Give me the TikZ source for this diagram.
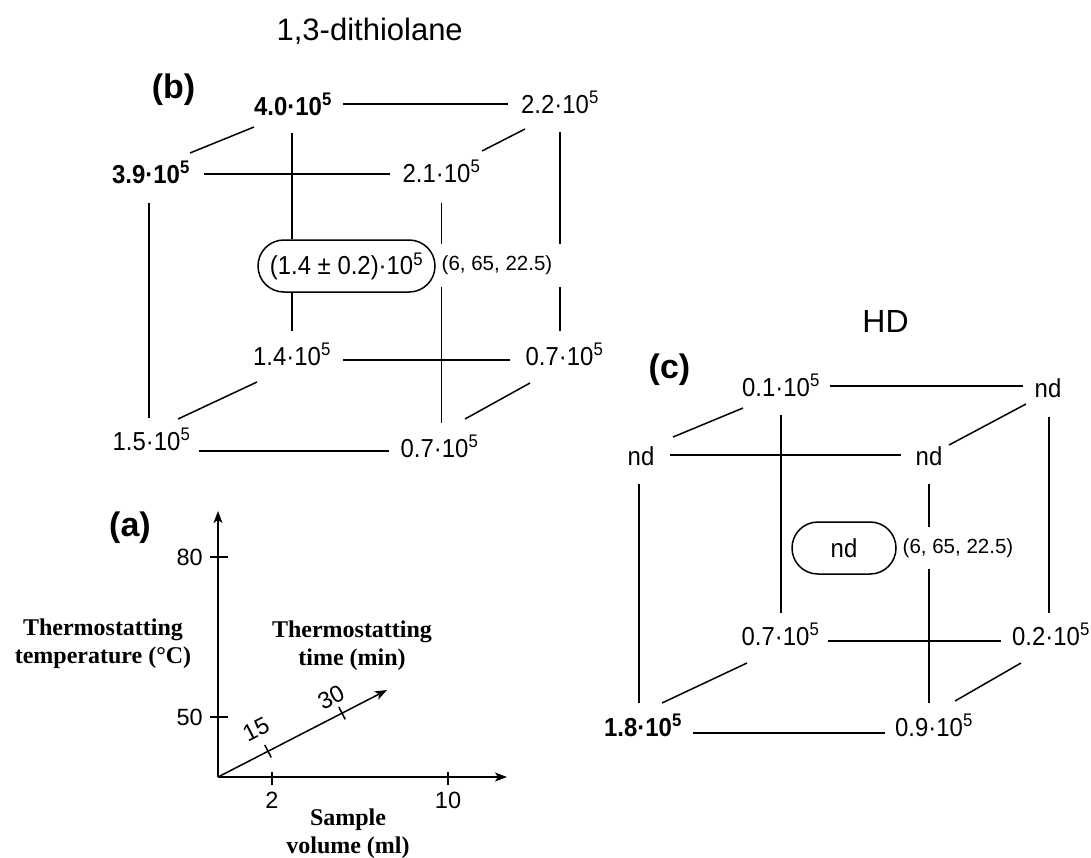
\documentclass[tikz,border=0pt]{standalone}
\usepackage{fontspec}
\setmainfont{Liberation Sans}
\newfontfamily\tnrfam{Liberation Serif}
\newfontfamily\numfam{Liberation Sans}[FakeStretch=0.92]
\usetikzlibrary{arrows.meta,calc}
\newcommand\tenpow[2]{#1·10\textsuperscript{#2}}
\tikzset{
  lab/.style={font=\numfam\fontsize{26}{30}\selectfont, inner sep=0pt, anchor=base},
  blab/.style={lab, font=\numfam\fontsize{26}{30}\selectfont\bfseries},
  edge/.style={line width=1.5pt},
  panel/.style={font=\fontsize{34}{40}\selectfont\bfseries, inner sep=0pt, anchor=base},
  ttl/.style={font=\fontsize{31}{36}\selectfont, inner sep=0pt, anchor=base},
  centrebox/.style={draw, line width=1.5pt, rounded corners=25.9pt, minimum height=52pt, inner sep=0pt, font=\numfam\fontsize{26}{30}\selectfont},
  coordlab/.style={font=\fontsize{20.5}{24}\selectfont, inner sep=0pt},
  ticklab/.style={font=\fontsize{23.5}{27}\selectfont, inner sep=0pt},
  axt/.style={font=\tnrfam\bfseries\fontsize{24}{28}\selectfont, align=center, inner sep=0pt},
  axarrow/.style={line width=1.5pt, -{Stealth[length=12pt,width=9pt,inset=3pt]}}
}
\begin{document}
\begin{tikzpicture}[x=1pt,y=-1pt]
\useasboundingbox (0,0) rectangle (1091,857);
% titles
\node[ttl] (t1) at (369.7,40) {1,3-dithiolane};
\node[ttl, font=\fontsize{32}{36}\selectfont] (t2) at (885.5,332) {HD};
\node[panel] (pb) at (173.5,98) {(b)};
\node[panel] (pc) at (669.5,378) {(c)};
\node[panel] (pa) at (130,536) {(a)};
% ---------- cube (b)
\node[blab] (n40) at (293,115) {\tenpow{4.0}{5}};
\node[lab]  (n22) at (560,113) {\tenpow{2.2}{5}};
\node[blab] (n39) at (151,183) {\tenpow{3.9}{5}};
\node[lab]  (n21) at (441.5,182) {\tenpow{2.1}{5}};
\node[lab]  (n14) at (292,365) {\tenpow{1.4}{5}};
\node[lab]  (n07r) at (564.5,365) {\tenpow{0.7}{5}};
\node[lab]  (n15) at (151.5,450) {\tenpow{1.5}{5}};
\node[lab]  (n07f) at (439.5,457) {\tenpow{0.7}{5}};
\node[centrebox, minimum width=177pt] (cb) at (346.5,266) {(1.4 ± 0.2)·10\textsuperscript{5}};
\node[coordlab, minimum height=43pt] (cc) at (497,265.5) {(6, 65, 22.5)};
\draw[edge] ($(n40.base)+(50,-11)$) -- ($(n22.base)+(-52,-9)$);
\draw[edge] ($(n39.base)+(53,-9)$) -- ($(n21.base)+(-51.5,-8)$);
\draw[edge] ($(n14.base)+(51,-5)$) -- ($(n07r.base)+(-54.5,-5)$);
\draw[edge] ($(n15.base)+(47.5,1)$) -- ($(n07f.base)+(-50.5,-6)$);
\draw[edge] ($(n39.base)+(-2,20)$) -- ($(n15.base)+(-2.5,-32)$);
\draw[edge] ($(n40.base)+(-1,18)$) -- (n14.base |- cb.north);
\draw[edge] (n14.base |- cb.south) -- ($(n14.base)+(0,-34)$);
\draw[edge] ($(n21.base)+(0,21)$) -- (n21.base |- cc.north);
\draw[edge] (n21.base |- cc.south) -- ($(n07f.base)+(2,-34)$);
\draw[edge] ($(n22.base)+(0,19)$) -- (n22.base |- cc.north);
\draw[edge] (n22.base |- cc.south) -- ($(n07r.base)+(-4.5,-34)$);
\draw[edge] ($(n39.base)+(39,-30)$) -- ($(n40.base)+(-39,12)$);
\draw[edge] ($(n21.base)+(40.5,-31)$) -- ($(n22.base)+(-35,16)$);
\draw[edge] ($(n15.base)+(26.5,-31)$) -- ($(n14.base)+(-35,17)$);
\draw[edge] ($(n07f.base)+(25.5,-38)$) -- ($(n07r.base)+(-34.5,18)$);
% ---------- cube (c)
\node[lab]  (m01) at (781,396) {\tenpow{0.1}{5}};
\node[lab]  (mnd1) at (1048,397) {nd};
\node[lab]  (mnd2) at (641,465) {nd};
\node[lab]  (mnd3) at (929,465) {nd};
\node[lab]  (m07) at (780.5,645) {\tenpow{0.7}{5}};
\node[lab]  (m02) at (1051,645) {\tenpow{0.2}{5}};
\node[blab] (m18) at (643,736) {\tenpow{1.8}{5}};
\node[lab]  (m09) at (934,736) {\tenpow{0.9}{5}};
\node[centrebox, minimum width=104pt] (cnd) at (844,548) {nd};
\node[coordlab, minimum height=42pt] (cc2) at (958,548) {(6, 65, 22.5)};
\draw[edge] ($(m01.base)+(49,-10)$) -- ($(mnd1.base)+(-25,-11)$);
\draw[edge] ($(mnd2.base)+(29,-10)$) -- ($(mnd3.base)+(-28,-10)$);
\draw[edge] ($(m07.base)+(47.5,-4)$) -- ($(m02.base)+(-50,-4)$);
\draw[edge] ($(m18.base)+(50,-3)$) -- ($(m09.base)+(-49,-3)$);
\draw[edge] ($(mnd2.base)+(-2,19)$) -- ($(m18.base)+(-4,-33)$);
\draw[edge] ($(m01.base)+(0,19)$) -- ($(m07.base)+(0.5,-32)$);
\draw[edge] ($(mnd3.base)+(0,19)$) -- (mnd3.base |- cc2.north);
\draw[edge] (mnd3.base |- cc2.south) -- ($(m09.base)+(-5,-33)$);
\draw[edge] ($(mnd1.base)+(1,20)$) -- ($(m02.base)+(-2,-32)$);
\draw[edge] ($(mnd2.base)+(32,-28)$) -- ($(m01.base)+(-38,12)$);
\draw[edge] ($(mnd3.base)+(20,-20)$) -- ($(mnd1.base)+(-22,7)$);
\draw[edge] ($(m18.base)+(19,-33)$) -- ($(m07.base)+(-33.5,18)$);
\draw[edge] ($(m09.base)+(21,-35)$) -- ($(m02.base)+(-30,18)$);
% ---------- axes (a)
\coordinate (O) at (218,777);
\coordinate (ytip) at (218,511);
\coordinate (xtip) at (507,777);
\coordinate (ztip) at (387,690);
\draw[axarrow] (O) -- (ytip);
\draw[axarrow] (O) -- (xtip);
\draw[axarrow] (O) -- (ztip);
\node[ticklab, anchor=east] (l80) at (203,557) {80};
\node[ticklab, anchor=east] (l50) at (203,717) {50};
\draw[edge] (l80.east -| O) ++(-8,0) -- ++(18,0);
\draw[edge] (l50.east -| O) ++(-8,0) -- ++(18,0);
\node[ticklab, anchor=base] (l2) at (272,808) {2};
\node[ticklab, anchor=base] (l10) at (448,808) {10};
\draw[edge] (l2.base |- O) ++(0,-5) -- ++(0,13);
\draw[edge] (l10.base |- O) ++(0,-5) -- ++(0,13);
\draw[edge] ($(O)!0.296!(ztip)+(-3.2,-6.2)$) -- ++(6.4,12.4);
\draw[edge] ($(O)!0.734!(ztip)+(-3.2,-6.2)$) -- ++(6.4,12.4);
\node[ticklab, rotate=27] (l15) at (256,729) {15};
\node[ticklab, rotate=27] (l30) at (331,697) {30};
\node[axt] (ttime) at (352,645.4) {Thermostatting\\time (min)};
\node[axt] (ttemp) at (103,643.4) {Thermostatting\\temperature (°C)};
\node[axt] (tvol) at (348,833.5) {Sample\\volume (ml)};
\end{tikzpicture}
\end{document}
